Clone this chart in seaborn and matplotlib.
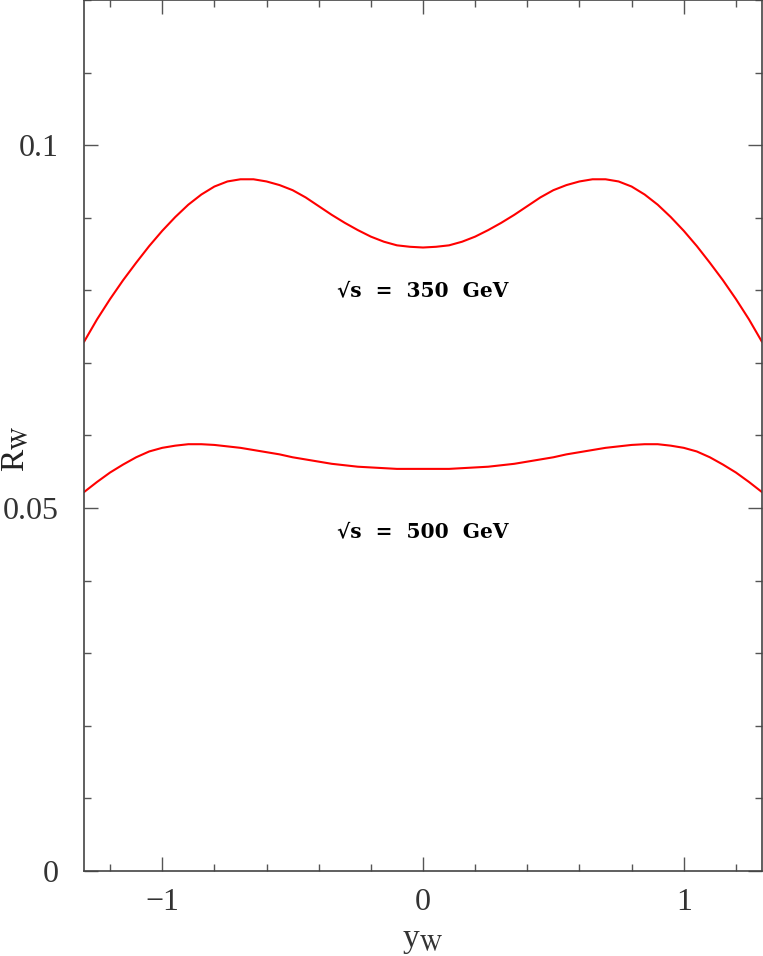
import numpy as np
import pandas as pd
import matplotlib
matplotlib.use("Agg")
import matplotlib.pyplot as plt
from matplotlib.ticker import MultipleLocator, FixedLocator, FixedFormatter
import seaborn as sns

sns.set_style("ticks")
plt.rcParams['font.family'] = ['Liberation Serif', 'DejaVu Serif']
plt.rcParams['mathtext.fontset'] = 'stix'

# rapidity grid of the W
y_w = [-1.30, -1.25, -1.20, -1.15, -1.10, -1.05, -1.00, -0.95, -0.90, -0.85,
       -0.80, -0.75, -0.70, -0.65, -0.60, -0.55, -0.50, -0.45, -0.40, -0.35,
       -0.30, -0.25, -0.20, -0.15, -0.10, -0.05, 0.00,
       0.05, 0.10, 0.15, 0.20, 0.25, 0.30, 0.35, 0.40, 0.45, 0.50,
       0.55, 0.60, 0.65, 0.70, 0.75, 0.80, 0.85, 0.90, 0.95, 1.00,
       1.05, 1.10, 1.15, 1.20, 1.25, 1.30]

# R_W at sqrt(s) = 350 GeV
r_350 = [0.0729, 0.0760, 0.0788, 0.0814, 0.0838, 0.0861, 0.0882, 0.0901, 0.0918, 0.0932,
         0.0943, 0.0950, 0.0953, 0.0953, 0.0950, 0.0945, 0.0938, 0.0928, 0.0916, 0.0904,
         0.0893, 0.0883, 0.0874, 0.0867, 0.0862, 0.0860, 0.0859,
         0.0860, 0.0862, 0.0867, 0.0874, 0.0883, 0.0893, 0.0904, 0.0916, 0.0928, 0.0938,
         0.0945, 0.0950, 0.0953, 0.0953, 0.0950, 0.0943, 0.0932, 0.0918, 0.0901, 0.0882,
         0.0861, 0.0838, 0.0814, 0.0788, 0.0760, 0.0729]

# R_W at sqrt(s) = 500 GeV
r_500 = [0.0522, 0.0536, 0.0549, 0.0560, 0.0570, 0.0578, 0.0583, 0.0586, 0.0588, 0.0588,
         0.0587, 0.0585, 0.0583, 0.0580, 0.0577, 0.0574, 0.0570, 0.0567, 0.0564, 0.0561,
         0.0559, 0.0557, 0.0556, 0.0555, 0.0554, 0.0554, 0.0554,
         0.0554, 0.0554, 0.0555, 0.0556, 0.0557, 0.0559, 0.0561, 0.0564, 0.0567, 0.0570,
         0.0574, 0.0577, 0.0580, 0.0583, 0.0585, 0.0587, 0.0588, 0.0588, 0.0586, 0.0583,
         0.0578, 0.0570, 0.0560, 0.0549, 0.0536, 0.0522]

labels = ["\u221as  =  350  GeV", "\u221as  =  500  GeV"]
label_pos = [(0.0, 0.0800), (0.0, 0.0468)]

df = pd.DataFrame({"y": y_w + y_w,
                   "R": r_350 + r_500,
                   "rs": ["350"] * len(y_w) + ["500"] * len(y_w)})

fig = plt.figure(figsize=(7.63, 9.56), dpi=100)
ax = fig.add_axes([84 / 763, 85 / 956, 678 / 763, 871 / 956])

sns.lineplot(data=df, x="y", y="R", hue="rs", palette=["#ff0000", "#ff0000"],
             linewidth=1.5, legend=False, ax=ax, sort=False)

ax.set_xlim(-1.3, 1.3)
ax.set_ylim(0, 0.12)

ax.xaxis.set_minor_locator(MultipleLocator(0.2))
ax.yaxis.set_major_locator(FixedLocator([0, 0.05, 0.1]))
ax.yaxis.set_major_formatter(FixedFormatter(["0", "0.05", "0.1"]))
ax.yaxis.set_minor_locator(MultipleLocator(0.01))
ax.set_xticks([-1, 0, 1])
ax.set_xticklabels(["\u22121", "0", "1"])

ax.tick_params(which="both", direction="in", top=True, right=True, color="#555555")
ax.tick_params(which="major", length=10, width=1, labelsize=23, labelcolor="#333333")
ax.tick_params(which="minor", length=5, width=1)
ax.tick_params(axis="x", which="major", pad=12)
ax.tick_params(axis="y", which="major", pad=18)
for s in ax.spines.values():
    s.set_color("#444444")
    s.set_linewidth(1.2)

ax.set_xlabel(r"y$_{\rm W}$", fontsize=24, color="#333333")
ax.set_ylabel(r"R$_{\rm W}$", fontsize=24, color="#222222")
ax.xaxis.set_label_coords(0.5, -0.062)
ax.yaxis.set_label_coords(-0.078, 0.485)

for txt, (xx, yy) in zip(labels, label_pos):
    ax.text(xx, yy, txt, ha="center", va="center", fontsize=14.5,
            fontweight="bold", color="black", family=['DejaVu Serif'])

fig.savefig("out.png", dpi=100)
